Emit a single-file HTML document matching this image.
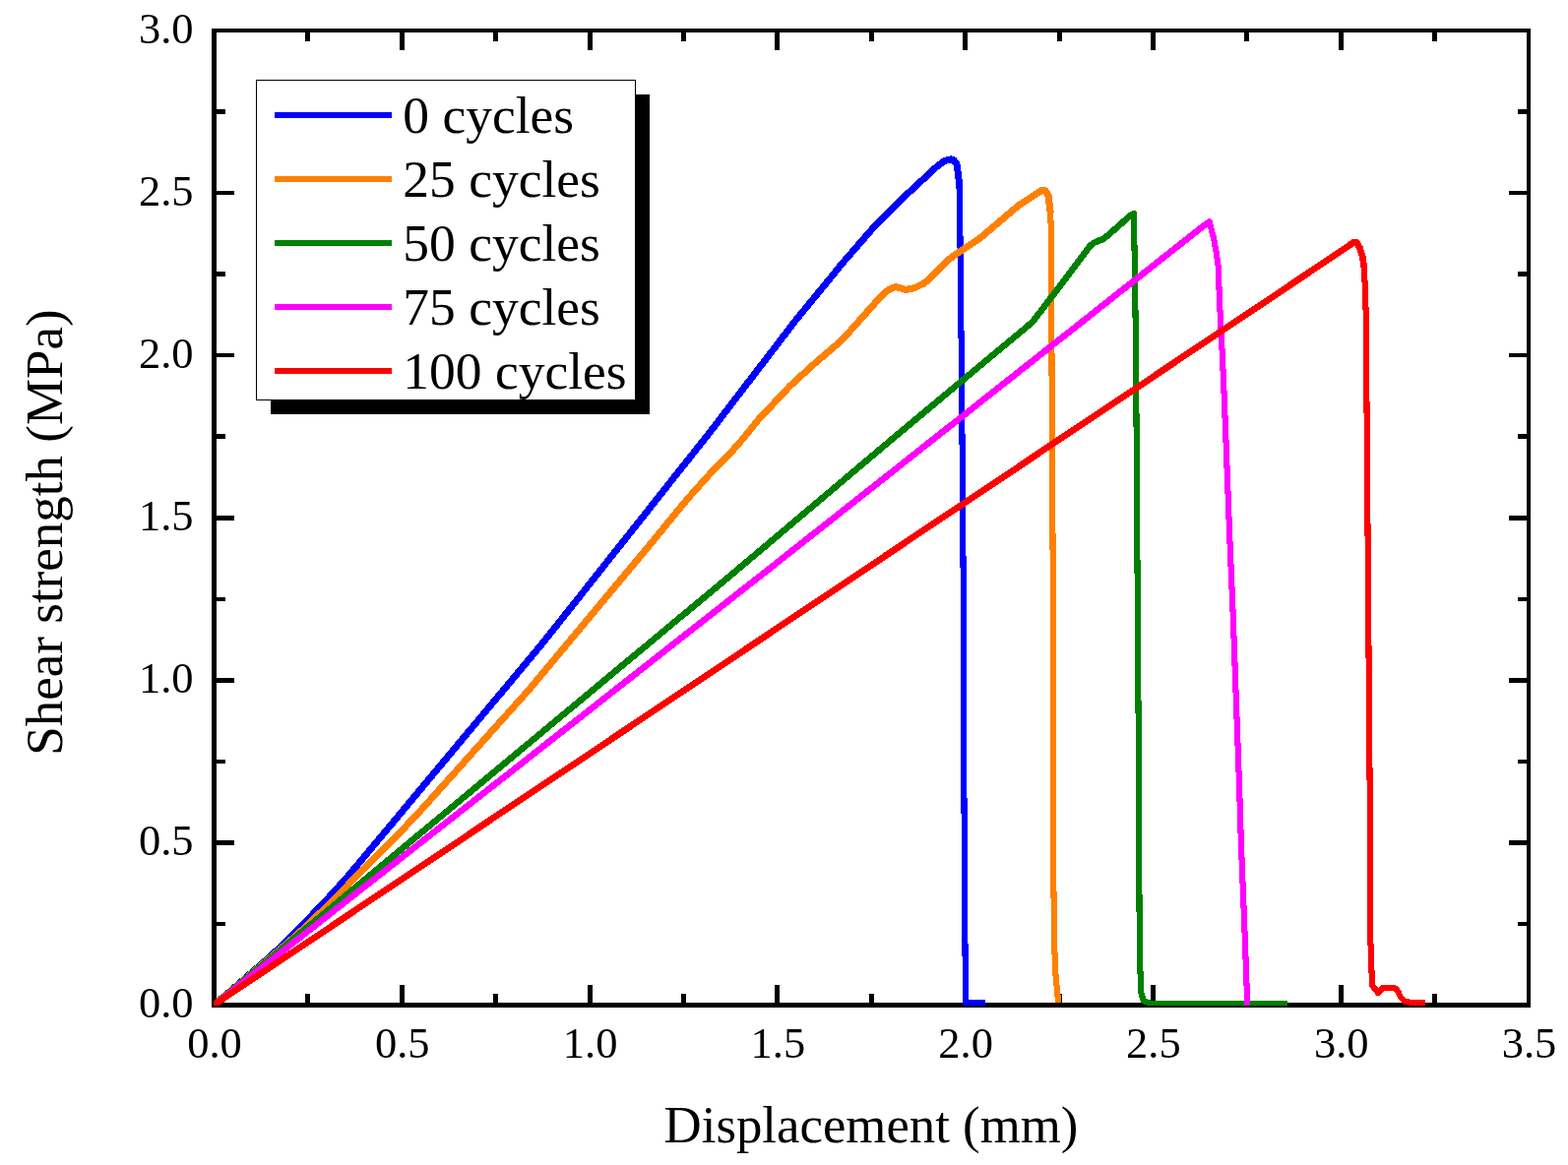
<!DOCTYPE html>
<html lang="en"><head><meta charset="utf-8"><title>Shear strength vs displacement</title>
<style>html,body{margin:0;padding:0;background:#fff}body{width:1593px;height:1184px;overflow:hidden}svg{display:block;position:absolute;left:0;top:0}text{font-family:"Liberation Serif",serif;fill:#000}</style></head><body>
<svg width="1593" height="1184" viewBox="0 0 1593 1184">
<rect x="0" y="0" width="1593" height="1184" fill="#fff"/>
<g fill="#000" shape-rendering="crispEdges">
<rect x="215" y="29" width="5" height="995"/>
<rect x="215" y="1019" width="1340" height="5"/>
<rect x="215" y="29" width="1340" height="4"/>
<rect x="1551" y="29" width="4" height="995"/>
<rect x="310.4" y="33" width="5" height="9"/>
<rect x="310.4" y="1010" width="5" height="9"/>
<rect x="405.8" y="33" width="5" height="18"/>
<rect x="405.8" y="1001" width="5" height="18"/>
<rect x="501.2" y="33" width="5" height="9"/>
<rect x="501.2" y="1010" width="5" height="9"/>
<rect x="596.6" y="33" width="5" height="18"/>
<rect x="596.6" y="1001" width="5" height="18"/>
<rect x="692.0" y="33" width="5" height="9"/>
<rect x="692.0" y="1010" width="5" height="9"/>
<rect x="787.4" y="33" width="5" height="18"/>
<rect x="787.4" y="1001" width="5" height="18"/>
<rect x="882.8" y="33" width="5" height="9"/>
<rect x="882.8" y="1010" width="5" height="9"/>
<rect x="978.1" y="33" width="5" height="18"/>
<rect x="978.1" y="1001" width="5" height="18"/>
<rect x="1073.5" y="33" width="5" height="9"/>
<rect x="1073.5" y="1010" width="5" height="9"/>
<rect x="1168.9" y="33" width="5" height="18"/>
<rect x="1168.9" y="1001" width="5" height="18"/>
<rect x="1264.3" y="33" width="5" height="9"/>
<rect x="1264.3" y="1010" width="5" height="9"/>
<rect x="1359.7" y="33" width="5" height="18"/>
<rect x="1359.7" y="1001" width="5" height="18"/>
<rect x="1455.1" y="33" width="5" height="9"/>
<rect x="1455.1" y="1010" width="5" height="9"/>
<rect x="220" y="936.5" width="9" height="4.5"/>
<rect x="1542" y="936.5" width="9" height="4.5"/>
<rect x="220" y="854.0" width="18" height="4.5"/>
<rect x="1533" y="854.0" width="18" height="4.5"/>
<rect x="220" y="771.5" width="9" height="4.5"/>
<rect x="1542" y="771.5" width="9" height="4.5"/>
<rect x="220" y="689.0" width="18" height="4.5"/>
<rect x="1533" y="689.0" width="18" height="4.5"/>
<rect x="220" y="606.5" width="9" height="4.5"/>
<rect x="1542" y="606.5" width="9" height="4.5"/>
<rect x="220" y="524.0" width="18" height="4.5"/>
<rect x="1533" y="524.0" width="18" height="4.5"/>
<rect x="220" y="441.4" width="9" height="4.5"/>
<rect x="1542" y="441.4" width="9" height="4.5"/>
<rect x="220" y="358.9" width="18" height="4.5"/>
<rect x="1533" y="358.9" width="18" height="4.5"/>
<rect x="220" y="276.4" width="9" height="4.5"/>
<rect x="1542" y="276.4" width="9" height="4.5"/>
<rect x="220" y="193.9" width="18" height="4.5"/>
<rect x="1533" y="193.9" width="18" height="4.5"/>
<rect x="220" y="111.4" width="9" height="4.5"/>
<rect x="1542" y="111.4" width="9" height="4.5"/>
</g>
<clipPath id="pc"><rect x="217" y="33" width="1334" height="989"/></clipPath>
<g fill="none" stroke-linejoin="round" stroke-linecap="round" shape-rendering="crispEdges" clip-path="url(#pc)">
<polyline stroke="#0000ff" stroke-width="7.0" points="218.5,1020.5 264.9,980.6 276.3,970.4 287.5,960.0 307.1,940.5 335.7,910.2 354.4,889.5 552.1,652.6 720.6,440.1 808.0,326.0 855.7,267.7 886.0,232.9 911.3,206.8 951.9,169.2 958.9,163.9 965.8,161.8 969.2,162.9 972.0,167.0 973.9,180.0 974.7,190.8"/>
<polyline stroke="#0000ff" stroke-width="6.1" stroke-linecap="butt" points="974.7,190.8 975.3,221.2 975.9,292.1 976.9,370.0 978.9,620.0 979.4,800.0 980.0,901.3 980.8,1002.7 980.8,1018.9 1000.7,1018.9"/>
<polyline stroke="#ff8000" stroke-width="7.0" points="218.5,1020.5 289.0,961.1 306.2,945.8 328.0,925.1 402.5,850.2 427.6,823.5 538.2,700.1 661.3,552.4 692.2,514.6 702.7,502.2 719.7,483.3 745.1,457.0 755.1,445.6 770.1,426.9 802.6,392.3 827.1,369.9 849.1,351.0 860.5,340.0 892.8,303.7 900.5,296.0 907.6,292.1 910.5,291.7 920.6,294.5 929.7,292.5 938.3,288.2 942.1,285.3 961.3,265.9 968.2,260.3 994.9,242.7 1034.7,208.9 1058.6,193.3 1062.3,194.0 1065.0,198.5 1067.1,215.1"/>
<polyline stroke="#ff8000" stroke-width="6.1" stroke-linecap="butt" points="1067.1,215.1 1067.9,235.4 1068.1,271.9 1068.5,370.0 1069.9,620.0 1070.0,800.0 1070.4,901.3 1071.2,962.1 1072.6,992.5 1074.6,1012.8 1075.3,1018.9"/>
<polyline stroke="#008000" stroke-width="6.6" points="218.5,1020.5 740.0,586.7 906.5,446.1 1048.8,327.4 1071.7,297.5 1107.4,249.9 1112.0,246.5 1120.3,243.1 1125.5,239.3 1148.6,218.8"/>
<polyline stroke="#008000" stroke-width="6.1" stroke-linecap="butt" points="1148.6,218.8 1151.7,216.8 1152.3,241.1 1153.1,281.6 1154.2,380.0 1155.8,620.0 1157.1,800.0 1157.5,921.6 1158.3,982.4 1159.2,1008.8 1161.8,1016.9 1168.9,1019.9 1307.9,1019.9"/>
<rect x="1149" y="214.6" width="6" height="6" fill="#008000" stroke="none"/>
<polyline stroke="#ff00ff" stroke-width="6.6" points="218.5,1020.5 773.4,584.5 1225.7,227.2"/>
<polyline stroke="#ff00ff" stroke-width="6.1" stroke-linecap="butt" points="1225.7,227.2 1228.6,225.2 1232.8,241.1 1235.8,257.3 1237.8,271.5 1238.8,301.9 1240.3,332.3 1241.9,362.7 1243.2,390.0 1246.0,461.0 1249.1,542.1 1252.5,620.0 1259.1,800.0 1261.0,860.0 1264.1,936.0 1266.4,996.8 1267.1,1021.5"/>
<polyline stroke="#ff0000" stroke-width="6.7" points="218.5,1020.5 1356.8,258.9 1375.4,246.2 1377.5,246.1 1378.8,247.0 1381.4,251.6 1384.3,261.3 1385.8,271.5"/>
<polyline stroke="#ff0000" stroke-width="6.1" stroke-linecap="butt" points="1385.8,271.5 1386.8,291.7 1387.8,322.1 1388.2,362.7 1388.4,400.0 1392.1,860.0 1392.2,951.2 1393.3,981.6 1394.0,1001.4 1400.1,1009.0 1404.7,1004.1 1417.6,1004.4 1420.6,1008.2 1422.9,1013.5 1427.5,1017.8 1432.8,1018.8 1447.5,1018.8"/>
</g>
<g font-size="44.5px">
<text x="218.0" y="1075" text-anchor="middle">0.0</text>
<text x="408.8" y="1075" text-anchor="middle">0.5</text>
<text x="599.6" y="1075" text-anchor="middle">1.0</text>
<text x="790.4" y="1075" text-anchor="middle">1.5</text>
<text x="981.1" y="1075" text-anchor="middle">2.0</text>
<text x="1171.9" y="1075" text-anchor="middle">2.5</text>
<text x="1362.7" y="1075" text-anchor="middle">3.0</text>
<text x="1553.5" y="1075" text-anchor="middle">3.5</text>
<text x="196.5" y="1033.7" text-anchor="end">0.0</text>
<text x="196.5" y="868.7" text-anchor="end">0.5</text>
<text x="196.5" y="703.6" text-anchor="end">1.0</text>
<text x="196.5" y="538.6" text-anchor="end">1.5</text>
<text x="196.5" y="373.6" text-anchor="end">2.0</text>
<text x="196.5" y="208.5" text-anchor="end">2.5</text>
<text x="196.5" y="43.5" text-anchor="end">3.0</text>
</g>
<text x="885.0" y="1161" font-size="52.8px" text-anchor="middle">Displacement (mm)</text>
<text transform="translate(62.6,541) rotate(-90)" font-size="53px" text-anchor="middle">Shear strength (MPa)</text>
<g shape-rendering="crispEdges"><rect x="275" y="96" width="385" height="325" fill="#000"/>
<rect x="260.5" y="81.5" width="385" height="325" fill="#fff" stroke="#000" stroke-width="1"/>
<rect x="279" y="114.0" width="119" height="6" fill="#0000ff"/>
<rect x="279" y="179.0" width="119" height="6" fill="#ff8000"/>
<rect x="279" y="244.0" width="119" height="6" fill="#008000"/>
<rect x="279" y="309.0" width="119" height="6" fill="#ff00ff"/>
<rect x="279" y="374.0" width="119" height="6" fill="#ff0000"/>
</g>
<g font-size="53.5px">
<text x="409.3" y="135.2">0 cycles</text>
<text x="409.3" y="200.0">25 cycles</text>
<text x="409.3" y="264.9">50 cycles</text>
<text x="409.3" y="329.8">75 cycles</text>
<text x="409.3" y="394.6">100 cycles</text>
</g>
</svg></body></html>
